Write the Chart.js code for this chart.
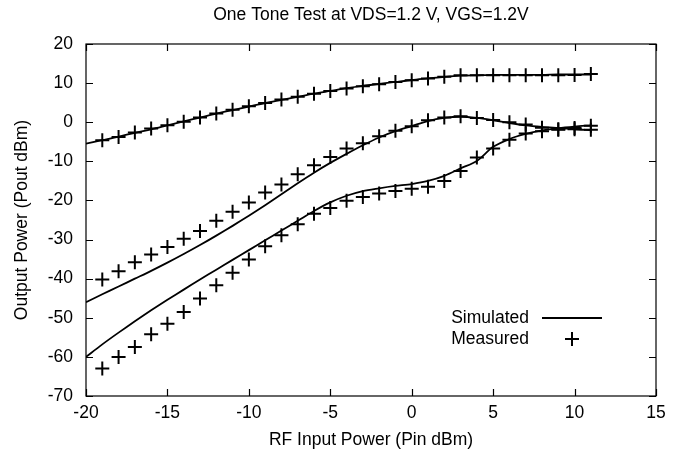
<!DOCTYPE html>
<html><head><meta charset="utf-8">
<script src="https://cdn.jsdelivr.net/npm/chart.js@4.4.0/dist/chart.umd.min.js"></script>
<style>html,body{margin:0;padding:0;background:#fff}#wrap{width:683px;height:454px}</style>
</head><body><div id="wrap"><canvas id="c" width="683" height="454"></canvas></div>
<script>
// ---- data ----
const pinSim = [-20,-19,-18,-17,-16,-15,-14,-13,-12,-11,-10,-9,-8,-7,-6,-5,-4,-3,-2,-1,0,1,2,3,4,5,6,7,8,9,10,11];
const simTop = [-5.5,-4.6,-3.7,-2.7,-1.8,-0.8,0.2,1.2,2.2,3.1,4.0,4.9,5.7,6.5,7.3,8.0,8.7,9.3,9.8,10.3,10.8,11.2,11.6,11.9,12.0,12.1,12.1,12.1,12.1,12.2,12.2,12.2];
const simMid = [-46.0,-44.0,-42.0,-40.0,-38.0,-35.9,-33.7,-31.4,-29.0,-26.5,-23.9,-21.2,-18.4,-15.6,-12.9,-10.4,-8.1,-5.9,-3.9,-2.3,-1.0,0.3,1.1,1.4,1.1,0.5,-0.2,-0.8,-1.2,-1.5,-1.8,-2.0];
const simLow = [-60.0,-56.8,-53.8,-50.9,-48.1,-45.4,-42.8,-40.2,-37.7,-35.2,-32.7,-30.2,-27.7,-25.2,-22.7,-20.5,-18.8,-17.6,-16.9,-16.3,-15.8,-15.0,-13.7,-11.8,-9.9,-6.3,-4.3,-3.0,-2.1,-1.5,-1.1,-0.8];
const pinMeas = [-19,-18,-17,-16,-15,-14,-13,-12,-11,-10,-9,-8,-7,-6,-5,-4,-3,-2,-1,0,1,2,3,4,5,6,7,8,9,10,11];
const measTop = [-4.6,-3.8,-2.6,-1.6,-0.8,0.1,1.2,2.2,3.2,4.1,4.9,5.8,6.5,7.3,8.0,8.6,9.2,9.7,10.3,10.7,11.2,11.6,12.0,12.0,12.0,12.0,12.0,12.0,12.0,12.1,12.3];
const measMid = [-40.2,-38.1,-35.8,-33.8,-31.9,-29.8,-27.8,-25.2,-22.9,-20.5,-18.0,-15.9,-13.3,-11.0,-8.9,-6.7,-5.4,-3.6,-2.2,-1.0,0.5,1.2,1.5,1.1,0.6,0.0,-0.6,-1.4,-1.8,-1.8,-1.9];
const measLow = [-63.0,-60.0,-57.5,-54.2,-51.5,-48.5,-45.1,-41.7,-38.5,-35.1,-31.7,-28.9,-26.1,-23.4,-21.9,-20.1,-19.1,-18.2,-17.6,-17.0,-16.5,-15.0,-12.5,-9.0,-6.7,-4.5,-2.9,-2.3,-1.9,-1.5,-0.9];
const xTicks = [-20,-15,-10,-5,0,5,10,15];
const yTicks = [-70,-60,-50,-40,-30,-20,-10,0,10,20];
const titleText = 'One Tone Test at VDS=1.2 V, VGS=1.2V';
const xTitle = 'RF Input Power (Pin dBm)';
const yTitle = 'Output Power (Pout dBm)';
const legendLabels = ['Simulated','Measured'];

const FONT = '"Liberation Sans", Arial, Helvetica, sans-serif';
const FS = 17.5;
const pts = (xs, ys) => xs.map((x, i) => ({x: x, y: ys[i]}));

const simStyle = {showLine: true, pointRadius: 0, borderColor: '#000', borderWidth: 1.8, tension: 0.3, fill: false};
const measStyle = {showLine: false, pointStyle: 'cross', pointRadius: 7, pointHoverRadius: 7, pointBorderWidth: 2, borderColor: '#000', backgroundColor: '#000'};

const datasets = [
  Object.assign({label: legendLabels[0], data: pts(pinSim, simTop)}, simStyle),
  Object.assign({label: legendLabels[0], data: pts(pinSim, simMid)}, simStyle),
  Object.assign({label: legendLabels[0], data: pts(pinSim, simLow)}, simStyle),
  Object.assign({label: legendLabels[1], data: pts(pinMeas, measTop)}, measStyle),
  Object.assign({label: legendLabels[1], data: pts(pinMeas, measMid)}, measStyle),
  Object.assign({label: legendLabels[1], data: pts(pinMeas, measLow)}, measStyle)
];

const framePlugin = {
  id: 'frame',
  afterDraw(chart) {
    const {ctx, chartArea: a, scales} = chart;
    ctx.save();
    ctx.strokeStyle = '#000';
    ctx.lineWidth = 1.2;
    ctx.strokeRect(a.left, a.top, a.right - a.left, a.bottom - a.top);
    const TL = 7;
    ctx.beginPath();
    scales.x.ticks.forEach(t => {
      const px = Math.round(scales.x.getPixelForValue(t.value)) + 0.5;
      ctx.moveTo(px, a.bottom); ctx.lineTo(px, a.bottom - TL);
      ctx.moveTo(px, a.top); ctx.lineTo(px, a.top + TL);
    });
    scales.y.ticks.forEach(t => {
      const py = Math.round(scales.y.getPixelForValue(t.value)) + 0.5;
      ctx.moveTo(a.left, py); ctx.lineTo(a.left + TL, py);
      ctx.moveTo(a.right, py); ctx.lineTo(a.right - TL, py);
    });
    ctx.stroke();
    // legend: text right-aligned, sample to the right
    ctx.font = FS + 'px ' + FONT;
    ctx.fillStyle = '#000';
    ctx.textAlign = 'right';
    ctx.textBaseline = 'middle';
    const tx = 529, y1 = 318, y2 = 339;
    ctx.fillText(legendLabels[0], tx, y1);
    ctx.fillText(legendLabels[1], tx, y2);
    ctx.lineWidth = 1.8;
    ctx.beginPath();
    ctx.moveTo(542, y1); ctx.lineTo(602, y1);
    ctx.stroke();
    ctx.lineWidth = 2;
    ctx.beginPath();
    ctx.moveTo(572 - 7, y2); ctx.lineTo(572 + 7, y2);
    ctx.moveTo(572, y2 - 7); ctx.lineTo(572, y2 + 7);
    ctx.stroke();
    ctx.restore();
  }
};

new Chart(document.getElementById('c'), {
  type: 'scatter',
  data: {datasets: datasets},
  options: {
    responsive: false,
    animation: false,
    devicePixelRatio: 1,
    layout: {padding: {left: 0, right: 27, top: 0, bottom: 0}},
    plugins: {
      legend: {display: false},
      tooltip: {enabled: false},
      title: {display: true, text: titleText, color: '#000', fullSize: false,
              font: {family: FONT, size: FS, weight: 'normal', lineHeight: 1.2},
              padding: {top: 4.5, bottom: 18.5}}
    },
    scales: {
      x: {
        type: 'linear', min: -20, max: 15,
        afterBuildTicks: s => { s.ticks = xTicks.map(v => ({value: v})); },
        afterFit: s => { s.height = 58; },
        grid: {display: false, drawTicks: false},
        border: {display: false},
        ticks: {color: '#000', padding: 6.5, maxRotation: 0, font: {family: FONT, size: FS}},
        title: {display: true, text: xTitle, color: '#000', font: {family: FONT, size: FS, lineHeight: 1.2}, padding: {top: 0, bottom: 3.5}}
      },
      y: {
        type: 'linear', min: -70, max: 20,
        afterBuildTicks: s => { s.ticks = yTicks.map(v => ({value: v})); },
        afterFit: s => { s.width = 86; },
        grid: {display: false, drawTicks: false},
        border: {display: false},
        ticks: {color: '#000', padding: 13, font: {family: FONT, size: FS}},
        title: {display: true, text: yTitle, color: '#000', font: {family: FONT, size: FS, lineHeight: 1.2}, padding: {top: 11.5, bottom: 0}}
      }
    }
  },
  plugins: [framePlugin]
});
</script></body></html>
